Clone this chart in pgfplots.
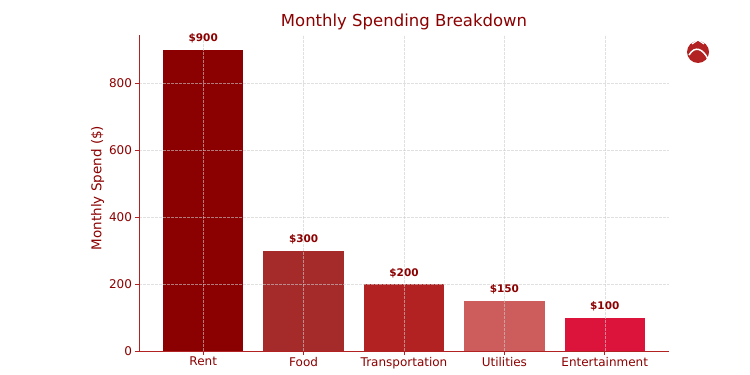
\documentclass[border=0pt]{standalone}
\usepackage{pgfplots}
\pgfplotsset{compat=1.18}
\usepackage{fontspec}
\setmainfont{DejaVu Sans}
\usetikzlibrary{calc}
\definecolor{txt}{HTML}{8B0000}
\definecolor{spine}{HTML}{B22222}
\definecolor{c1}{HTML}{8B0000}
\definecolor{c2}{HTML}{A52A2A}
\definecolor{c3}{HTML}{B22222}
\definecolor{c4}{HTML}{CD5C5C}
\definecolor{c5}{HTML}{DC143C}
\begin{document}
\begin{tikzpicture}
\begin{axis}[
  name=ax, at={(0,0)}, anchor=south west,
  scale only axis, width=530bp, height=316bp,
  xmin=-0.64, xmax=4.64, ymin=0, ymax=945,
  ybar, bar width=0.8,
  axis x line*=bottom, axis y line*=left,
  axis line style={spine, line width=0.8bp, -},
  xtick={0,1,2,3,4},
  xticklabels={Rent,Food,Transportation,Utilities,Entertainment},
  ytick={0,200,400,600,800},
  tick style={spine, line width=0.6bp},
  tick align=outside, major tick length=3.5bp,
  xmajorgrids, ymajorgrids,
  grid style={gray!40, dash pattern=on 2.5bp off 1.5bp, line width=0.5bp, opacity=0.6},
  axis on top,
  ticklabel style={font=\fontsize{12bp}{14bp}\selectfont, text=txt},
  xticklabel style={yshift=1bp},
  /pgf/number format/assume math mode=true,
  title={Monthly Spending Breakdown},
  title style={font=\fontsize{16.5bp}{19bp}\selectfont, text=txt, yshift=-4bp},
  ylabel={Monthly Spend (\$)},
  ylabel style={font=\fontsize{13.5bp}{15bp}\selectfont, text=txt, xshift=5bp, yshift=-2bp},
  nodes near coords={\$\pgfmathprintnumber{\pgfplotspointmeta}},
  nodes near coords style={font=\bfseries\fontsize{10.5bp}{12bp}\selectfont, text=txt, yshift=3bp},
  every axis plot/.append style={draw=none, bar shift=0pt},
]
\addplot[fill=c1] coordinates {(0,900)};
\addplot[fill=c2] coordinates {(1,300)};
\addplot[fill=c3] coordinates {(2,200)};
\addplot[fill=c4] coordinates {(3,150)};
\addplot[fill=c5] coordinates {(4,100)};
\end{axis}
\path[use as bounding box] ($(ax.south west)+(-139bp,-24bp)$) rectangle ++(750bp,375bp);
\begin{scope}[shift={($(ax.south west)+(-139bp,-24bp)$)}]
  \fill[c3] (698bp,323bp) circle (11bp);
  \draw[white, line width=1.5bp] (689bp,320bp) .. controls (695bp,330bp) and (703bp,326bp) .. (708bp,316bp);
  \draw[white, line width=1.2bp] (692bp,331bp) -- (698bp,335bp) -- (704bp,331bp);
\end{scope}
\end{tikzpicture}
\end{document}
